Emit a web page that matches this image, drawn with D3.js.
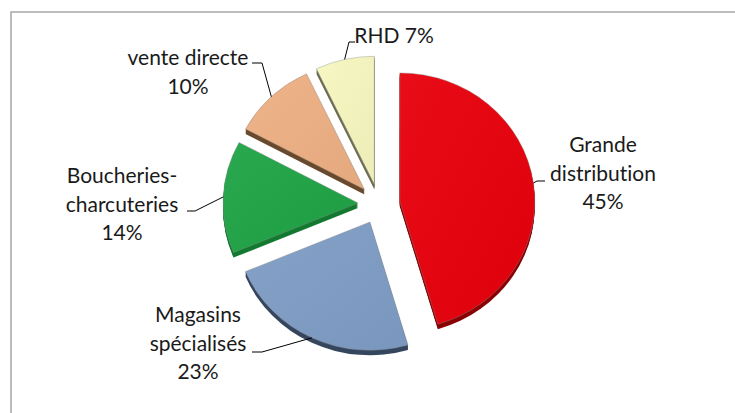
<!DOCTYPE html>
<html><head><meta charset="utf-8">
<script src="https://cdn.jsdelivr.net/npm/d3@7"></script>
<style>body{margin:0;background:#fff} svg{display:block} text{font-variant-ligatures:none}</style>
</head><body>
<svg id="c" width="735" height="413"></svg>
<script>
// ---- data ----
const categories = ["Grande distribution", "Magasins spécialisés", "Boucheries-charcuteries", "vente directe", "RHD"];
const values = [45, 23, 14, 10, 7];
const labelLines = [["Grande", "distribution", "45%"], ["Magasins", "spécialisés", "23%"], ["Boucheries-", "charcuteries", "14%"], ["vente directe", "10%"], ["RHD 7%"]];

// ---- style / layout ----
const topColors = ["#e8000b", "#7f9dc6", "#1fa446", "#efb084", "#f7f7c0"];
const sideColors = ["#8a0005", "#35475f", "#137a30", "#6a4a2e", "#6e6e52"];
const labelLayout = [
  {x: 603, y: 152, sx: 545, sy: 181, ex: 537},
  {x: 198, y: 322, sx: 252, sy: 352, ex: 262},
  {x: 122, y: 183, sx: 187, sy: 211, ex: 195},
  {x: 188, y: 65,  sx: 252, sy: 63,  ex: 262},
  {x: 394, y: 43,  sx: 355, sy: 42,  ex: 349}
];
const W = 735, H = 413;
const cx = 379, cy = 204, R = 135, K = 0.95, explode = 21, depth = 5, lineH = 28.5;
const font = "Lato, 'Open Sans', sans-serif", fontSize = 21;

const svg = d3.select("#c");
svg.append("rect").attr("x", 11).attr("y", 12).attr("width", W + 20).attr("height", H + 20)
  .attr("fill", "#fff").attr("stroke", "#a6a6a6").attr("stroke-width", 1.5);

const data = categories.map((c, i) => ({name: c, value: values[i], i}));
const pie = d3.pie().value(d => d.value).sort(null).startAngle(0).endAngle(2 * Math.PI);
const arcs = pie(data);
const arc = d3.arc().innerRadius(0).outerRadius(R);

function offset(a) {
  const m = (a.startAngle + a.endAngle) / 2;
  return [explode * Math.sin(m), -explode * Math.cos(m) * K];
}

const defs = svg.append("defs");
const g = defs.append("linearGradient").attr("id", "shade").attr("x1", 0).attr("y1", 0).attr("x2", 1).attr("y2", 1);
g.append("stop").attr("offset", 0).attr("stop-color", "#fff").attr("stop-opacity", 0.05);
g.append("stop").attr("offset", 1).attr("stop-color", "#000").attr("stop-opacity", 0.04);

const sides = svg.append("g");
for (let d = depth; d >= 1; d--) {
  sides.selectAll(null).data(arcs).enter().append("path")
    .attr("transform", a => { const o = offset(a); return `translate(${cx + o[0]},${cy + o[1] + d}) scale(1,${K})`; })
    .attr("d", arc)
    .attr("fill", a => sideColors[a.index]);
}
const tops = svg.append("g");
tops.selectAll(null).data(arcs).enter().append("path")
  .attr("transform", a => { const o = offset(a); return `translate(${cx + o[0]},${cy + o[1]}) scale(1,${K})`; })
  .attr("d", arc)
  .attr("fill", a => topColors[a.index])
  .attr("stroke", "#8c8c8c").attr("stroke-opacity", 0.5).attr("stroke-width", 0.8)
  .attr("vector-effect", "non-scaling-stroke");
tops.selectAll(null).data(arcs).enter().append("path")
  .attr("transform", a => { const o = offset(a); return `translate(${cx + o[0]},${cy + o[1]}) scale(1,${K})`; })
  .attr("d", arc)
  .attr("fill", "url(#shade)");

// leader lines
const leaders = svg.append("g");
arcs.forEach(a => {
  const L = labelLayout[a.index];
  const o = offset(a);
  const m = (a.startAngle + a.endAngle) / 2;
  const px = cx + o[0] + R * Math.sin(m);
  const py = cy + o[1] - R * Math.cos(m) * K;
  leaders.append("path")
    .attr("d", d3.line()([[L.sx, L.sy], [L.ex, L.sy], [px, py]]))
    .attr("fill", "none").attr("stroke", "#000").attr("stroke-width", 1);
});

// labels
const labels = svg.append("g").attr("font-family", font).attr("font-size", fontSize).attr("fill", "#1a1a1a");
arcs.forEach(a => {
  const L = labelLayout[a.index];
  const t = labels.append("text").attr("text-anchor", "middle");
  labelLines[a.index].forEach((s, j) => {
    t.append("tspan").attr("x", L.x).attr("y", L.y + j * lineH).text(s);
  });
});
</script>
</body></html>
